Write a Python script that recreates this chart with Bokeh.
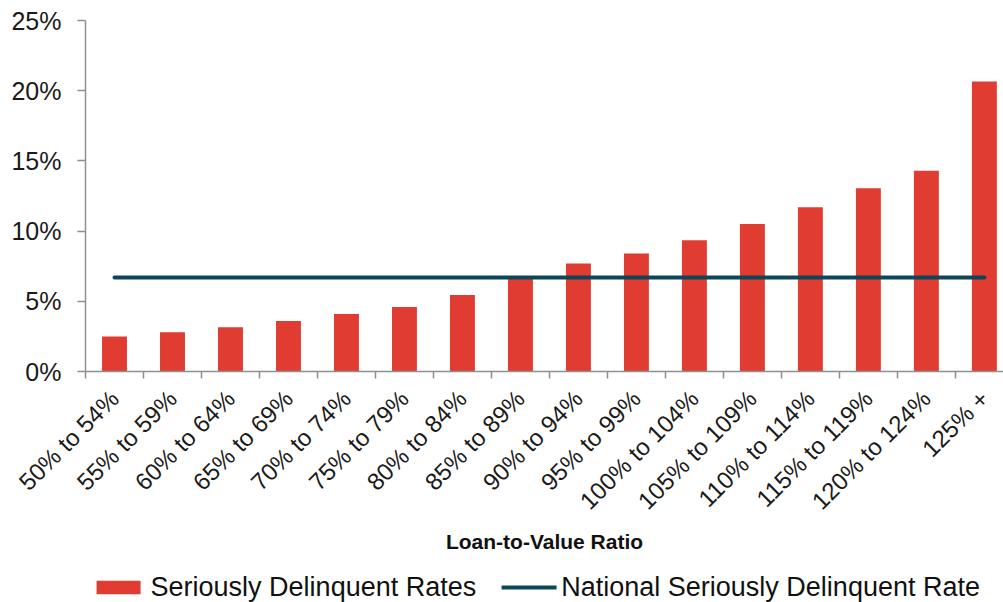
from bokeh.plotting import figure
from bokeh.layouts import column
from bokeh.models import (Range1d, FixedTicker, PrintfTickFormatter, Legend, LegendItem)
from bokeh.embed import file_html
from bokeh.resources import INLINE
import math

# Seriously delinquent rate (%) by loan-to-value bucket
ltv_buckets = ["50% to 54%", "55% to 59%", "60% to 64%", "65% to 69%",
               "70% to 74%", "75% to 79%", "80% to 84%", "85% to 89%",
               "90% to 94%", "95% to 99%", "100% to 104%", "105% to 109%",
               "110% to 114%", "115% to 119%", "120% to 124%", "125% +"]
delinquent_rates = [2.5, 2.8, 3.15, 3.6, 4.1, 4.6, 5.45, 6.75,
                    7.7, 8.4, 9.35, 10.5, 11.7, 13.05, 14.3, 20.65]
national_rate = 6.7
y_ticks = [0, 5, 10, 15, 20, 25]

FONT = "Liberation Sans"
BAR_RED = "#e03c31"
LINE_TEAL = "#0e4659"
AXIS_GREY = "#8f8f8f"

n = len(ltv_buckets)
xs = list(range(n))

p = figure(frame_width=918, frame_height=351, output_backend="svg", toolbar_location=None,
           x_range=Range1d(-0.5, n - 0.67), y_range=Range1d(0, 25),
           min_border_left=85, min_border_right=0, min_border_top=20,
           min_border_bottom=200, background_fill_color="white",
           border_fill_color="white", outline_line_color=None)
p.grid.visible = False

p.vbar(x=xs, top=delinquent_rates, width=0.43, bottom=0,
       fill_color=BAR_RED, line_color=None)
p.line(x=xs, y=[national_rate] * n, line_color=LINE_TEAL, line_width=4,
       line_cap="round")

# x axis: labels at bucket centres, ticks at bucket boundaries
xa = p.xaxis[0]
xa.ticker = FixedTicker(ticks=xs, minor_ticks=[i - 0.5 for i in range(n + 1)])
xa.major_label_overrides = {i: lab for i, lab in enumerate(ltv_buckets)}
xa.major_label_orientation = math.pi / 4
xa.major_tick_out = 0
xa.major_tick_in = 0
xa.minor_tick_out = 7
xa.minor_tick_in = 0
xa.minor_tick_line_color = AXIS_GREY
xa.minor_tick_line_width = 1.5
xa.axis_line_color = AXIS_GREY
xa.axis_line_width = 1.5
xa.major_label_text_font = FONT
xa.major_label_text_font_size = "24px"
xa.major_label_text_color = "#1a1a1a"
xa.major_label_standoff = 16
xa.axis_label = "Loan-to-Value Ratio"
xa.axis_label_text_font = FONT
xa.axis_label_text_font_style = "bold"
xa.axis_label_text_font_size = "21px"
xa.axis_label_text_color = "#111111"
xa.axis_label_standoff = 3

ya = p.yaxis[0]
ya.ticker = FixedTicker(ticks=y_ticks)
ya.formatter = PrintfTickFormatter(format="%d%%")
ya.major_tick_out = 8
ya.major_tick_in = 0
ya.minor_tick_out = 0
ya.minor_tick_in = 0
ya.major_tick_line_color = AXIS_GREY
ya.major_tick_line_width = 1.5
ya.axis_line_color = AXIS_GREY
ya.axis_line_width = 1.5
ya.major_label_text_font = FONT
ya.major_label_text_font_size = "25px"
ya.major_label_text_color = "#1a1a1a"
ya.major_label_standoff = 16

# legend strip under the chart; the key renderers reuse the series but sit
# outside the strip's visible range, so only their legend swatches show
key = figure(width=1003, height=31, output_backend="svg", toolbar_location=None,
             x_range=Range1d(-100, -99), y_range=Range1d(0, 1),
             x_axis_location=None, y_axis_location=None,
             min_border=0, outline_line_color=None, background_fill_color="white",
             border_fill_color="white")
key.grid.visible = False
bar_key = key.vbar(x=xs, top=delinquent_rates, width=0.43, bottom=0,
                   fill_color=BAR_RED, line_color=None)
line_key = key.line(x=xs, y=[national_rate] * n, line_color=LINE_TEAL, line_width=4,
                    line_cap="round")

legend = Legend(items=[LegendItem(label="Seriously Delinquent Rates", renderers=[bar_key]),
                       LegendItem(label="National Seriously Delinquent Rate", renderers=[line_key])],
                orientation="horizontal", location="right",
                label_text_font=FONT, label_text_font_size="27px",
                label_text_color="#111111",
                glyph_width=55, glyph_height=17, label_standoff=5, spacing=25,
                padding=0, margin=23, border_line_color=None,
                background_fill_alpha=0)
key.add_layout(legend)

layout = column(p, key, spacing=0)
open("out.html", "w").write(file_html(layout, INLINE))
